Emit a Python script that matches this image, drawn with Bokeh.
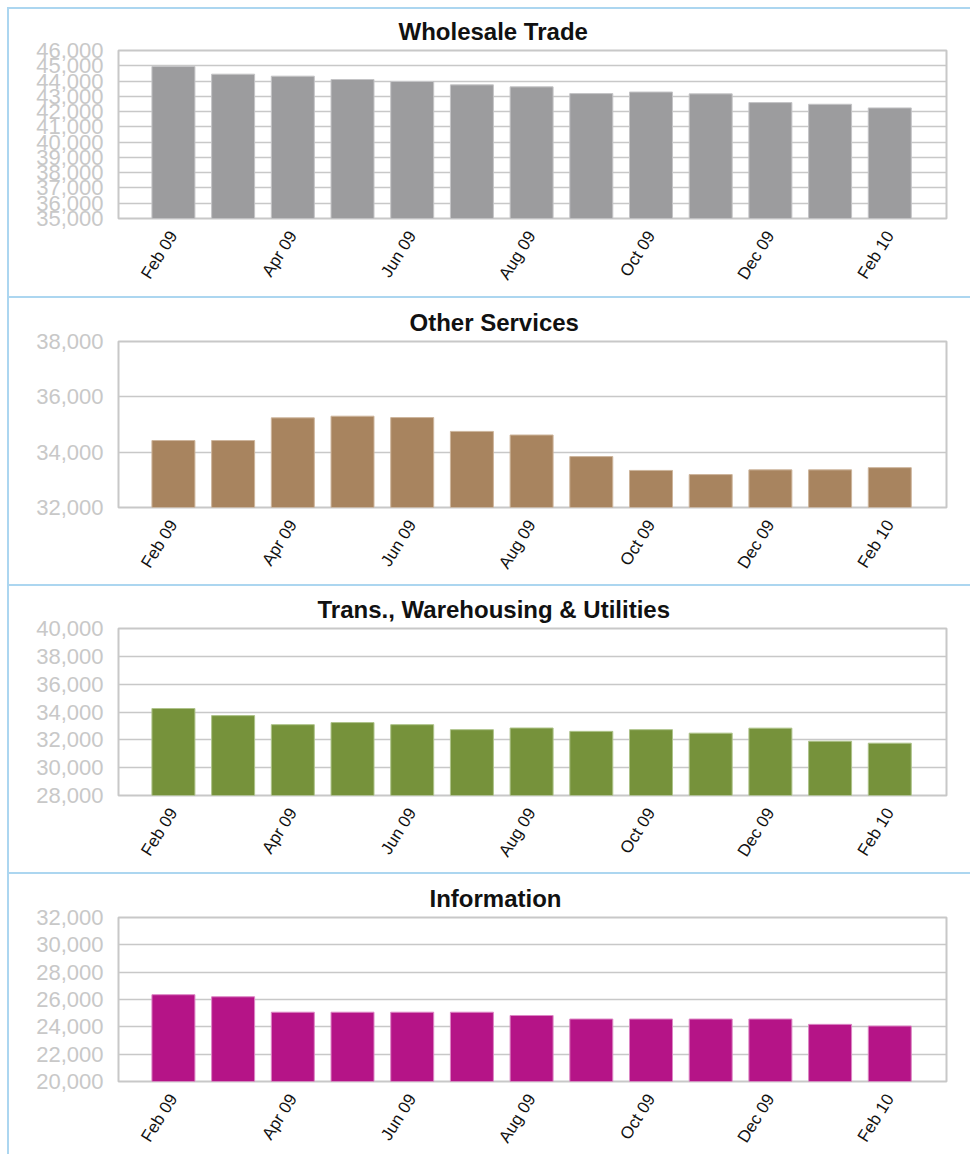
import math
from bokeh.plotting import figure
from bokeh.layouts import column
from bokeh.models import Range1d, FixedTicker, NumeralTickFormatter, Title
from bokeh.embed import file_html
from bokeh.resources import INLINE

# ---------------- data ----------------
months = ["Feb 09", "Mar 09", "Apr 09", "May 09", "Jun 09", "Jul 09", "Aug 09",
          "Sep 09", "Oct 09", "Nov 09", "Dec 09", "Jan 10", "Feb 10"]

wholesale_trade = [44950, 44450, 44320, 44100, 43970, 43750, 43620,
                   43180, 43280, 43160, 42590, 42480, 42240]
other_services = [34420, 34420, 35240, 35300, 35250, 34750, 34620,
                  33840, 33340, 33190, 33360, 33360, 33440]
trans_warehousing_utilities = [34250, 33740, 33090, 33240, 33090, 32730, 32850,
                               32610, 32730, 32480, 32840, 31900, 31760]
information = [26350, 26200, 25070, 25070, 25070, 25070, 24830,
               24570, 24570, 24570, 24570, 24180, 24060]

panel_titles = ["Wholesale Trade", "Other Services",
                "Trans., Warehousing & Utilities", "Information"]
panel_values = [wholesale_trade, other_services, trans_warehousing_utilities, information]

# y axis: (start, end, tick step)
y_axes = [(35000, 46000, 1000), (32000, 38000, 2000),
          (28000, 40000, 2000), (20000, 32000, 2000)]

# ---------------- styles ----------------
bar_colors = ["#9c9c9e", "#a8845f", "#76923b", "#b51487"]
bar_edges = ["#c4c4c6", "#cdb59c", "#aec38a", "#dc86c4"]
SEP = "#acd6f0"
GRID = "#c8c8c8"
FONT = "Liberation Sans"

# per panel: (height, min_border_top, min_border_bottom, title left offset)
layout_specs = [(296, 50, 78, 280), (288, 45, 77, 291), (288, 44, 77, 199), (282, 45, 71, 311)]

W = 970
BORDER_L = 118
BORDER_R = 24

SHADOW_FIRST = ("inset 7px 0 0 0 white, inset 0 7px 0 0 white, "
                "inset 9px 0 0 0 " + SEP + ", inset 0 9px 0 0 " + SEP)
SHADOW_REST = ("inset 7px 0 0 0 white, inset 9px 0 0 0 " + SEP +
               ", inset 0 2px 0 0 " + SEP)


def make_panel(idx, title, vals, ax, color, edge, spec):
    ylo, yhi, ystep = ax
    h, btop, bbot, toffset = spec
    p = figure(width=W, height=h, output_backend="svg", toolbar_location=None,
               x_range=Range1d(-0.92, 12.95), y_range=Range1d(ylo, yhi),
               min_border_left=BORDER_L, min_border_right=BORDER_R,
               min_border_top=btop, min_border_bottom=bbot,
               styles={"box-shadow": SHADOW_FIRST if idx == 0 else SHADOW_REST})
    p.background_fill_color = "white"
    p.border_fill_color = None
    p.outline_line_color = GRID
    p.outline_line_width = 2

    t = Title(text=title, align="left", offset=toffset, vertical_align="middle",
              text_font=FONT, text_font_size="24px", text_font_style="bold",
              text_color="#111111")
    p.add_layout(t, "above")

    p.vbar(x=list(range(len(months))), top=vals, bottom=ylo, width=0.72,
           fill_color=color, line_color=edge, line_width=1)

    xt = FixedTicker(ticks=list(range(0, len(months), 2)))
    p.xaxis.ticker = xt
    p.xaxis.major_label_overrides = {i: months[i] for i in range(0, len(months), 2)}
    p.xaxis.major_label_orientation = math.radians(58)
    p.xaxis.major_tick_out = 0
    p.xaxis.major_tick_in = 0
    p.xaxis.minor_tick_out = 0
    p.xaxis.minor_tick_in = 0
    p.xaxis.axis_line_color = None
    p.xaxis.major_label_standoff = 14
    p.xaxis.major_label_text_font = FONT
    p.xaxis.major_label_text_font_size = "17px"
    p.xaxis.major_label_text_color = "#111111"
    p.xgrid.visible = False

    yt = FixedTicker(ticks=list(range(ylo, yhi + 1, ystep)))
    p.yaxis.ticker = yt
    p.ygrid.ticker = yt
    p.yaxis.formatter = NumeralTickFormatter(format="0,0")
    p.yaxis.major_tick_out = 0
    p.yaxis.major_tick_in = 0
    p.yaxis.minor_tick_out = 0
    p.yaxis.minor_tick_in = 0
    p.yaxis.axis_line_color = None
    p.yaxis.major_label_standoff = 15
    p.yaxis.major_label_text_font = FONT
    p.yaxis.major_label_text_font_size = "22px"
    p.yaxis.major_label_text_color = "#c8c8c8"
    p.ygrid.grid_line_color = GRID
    p.ygrid.grid_line_width = 1.5
    return p


panels = [make_panel(i, panel_titles[i], panel_values[i], y_axes[i],
                     bar_colors[i], bar_edges[i], layout_specs[i]) for i in range(4)]
page = column(panels, spacing=0)

open("out.html", "w").write(file_html(page, INLINE))
